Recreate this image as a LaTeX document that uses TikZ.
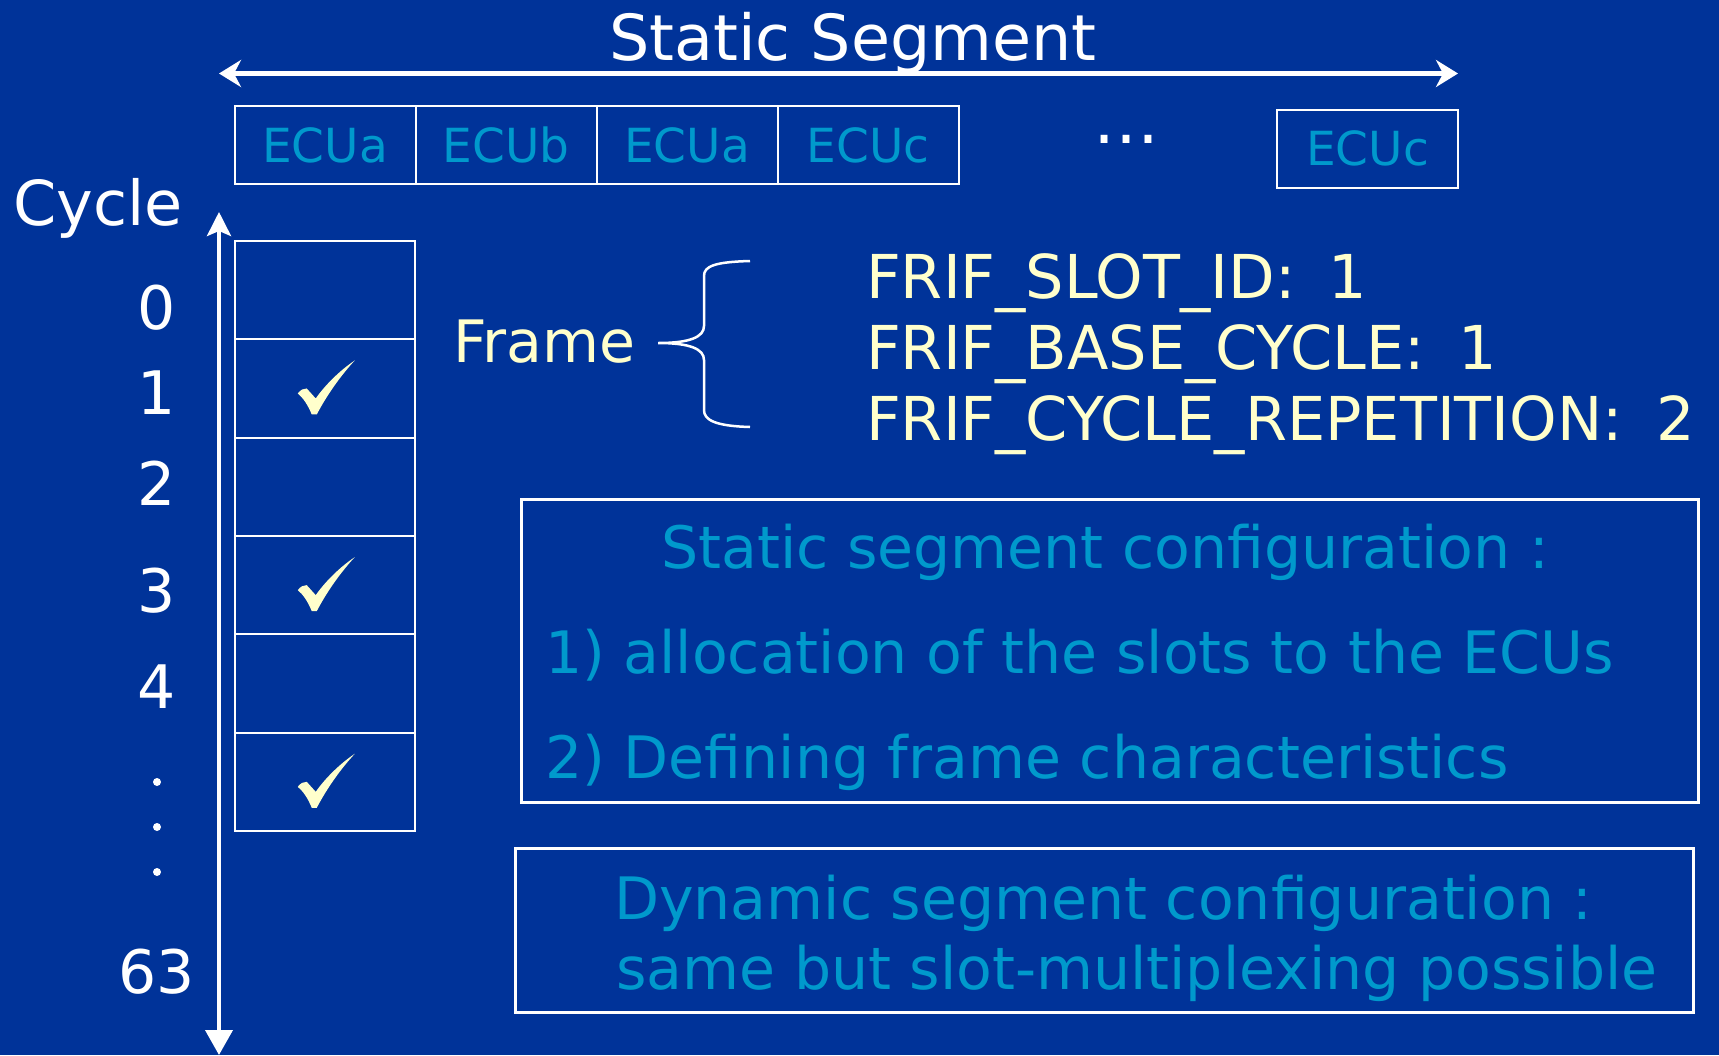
\documentclass[tikz,border=0pt]{standalone}
\usepackage{fontspec}
\setmainfont{DejaVu Sans}
\usetikzlibrary{arrows.meta}
\definecolor{bg}{RGB}{0,51,153}
\definecolor{cyanT}{RGB}{0,153,204}
\definecolor{cream}{RGB}{255,255,204}
\newcommand\fs[1]{\fontsize{#1}{#1}\selectfont}
\newcommand\checkmk[1]{\fill[cream,shift={#1}] (-27,5) .. controls (-24,1) and (-21,0) .. (-18,0) -- (-9,10) .. controls (0,-3) and (15,-18) .. (30,-28) .. controls (17,-14) and (3,5) .. (-8,26) -- (-13,26) .. controls (-17,16) and (-22,9) .. (-27,5) -- cycle;}
\tikzset{
  ecubox/.style={draw=white, line width=2pt, minimum width=181pt, minimum height=78pt, inner sep=0pt, text=cyanT, font=\fs{47}, anchor=north west},
  cellbox/.style={draw=white, line width=2pt, minimum width=180.5pt, minimum height=98.3pt, inner sep=0pt, anchor=north west},
  infobox/.style={draw=white, line width=2.5pt, inner sep=0pt, anchor=north west},
  num/.style={text=white, font=\fs{60}, anchor=base, inner sep=0pt},
  cream txt/.style={text=cream, font=\fs{58.5}, anchor=base west, inner sep=0pt},
  frif txt/.style={text=cream, font=\fs{60.5}, anchor=base west, inner sep=0pt},
  cyan txt/.style={text=cyanT, font=\fs{58.5}, anchor=base west, inner sep=0pt},
  bigarrow/.style={draw=white, line width=4.5pt},
}
\begin{document}
\begin{tikzpicture}[x=1pt,y=-1pt]
\fill[bg] (0,0) rectangle (1719,1055);
\useasboundingbox (0,0) rectangle (1719,1055);

% title and static segment arrow
\node[text=white, font=\fs{63.5}, anchor=base, inner sep=0pt] (title) at (853,60) {Static Segment};
\coordinate (ssL) at (219,73.5);
\coordinate (ssR) at (1458,73.5);
\draw[bigarrow, {Stealth[length=22pt,width=27pt,inset=7pt]}-{Stealth[length=22pt,width=27pt,inset=7pt]}] (ssL) -- (ssR);

% ECU boxes
\node[ecubox] (e1) at (233.5,105) {ECUa};
\node[ecubox] (e2) at (414.5,105) {ECUb};
\node[ecubox] (e3) at (595.5,105) {ECUa};
\node[ecubox] (e4) at (776.5,105) {ECUc};
\node[text=white, font=\fs{66}, anchor=base, inner sep=0pt] (dots) at (1126,143) {…};
\node[ecubox] (e5) at (1276,108.5) {ECUc};

% cycle axis
\node[text=white, font=\fs{62}, anchor=base west, inner sep=0pt] (cycle) at (13,225) {Cycle};
\coordinate (cyT) at (219,212);
\coordinate (cyB) at (219,1055);
\draw[bigarrow, line width=4pt, {Stealth[length=24pt,width=24pt,inset=5pt]}-{Triangle[length=25pt,width=27pt]}] (cyT) -- (cyB);

\node[num] (n0) at (157,329) {0};
\node[num] (n1) at (157,414) {1};
\node[num] (n2) at (157,505) {2};
\node[num] (n3) at (157,612) {3};
\node[num] (n4) at (157,708) {4};
\fill[white] (157,782) circle (4);
\fill[white] (157,827) circle (4);
\fill[white] (157,872) circle (4);
\node[num] (n63) at (157,993) {63};

% cells
\foreach \i in {0,...,5} {
  \node[cellbox] (c\i) at (233.5,{240+98.33*\i}) {};
}
\checkmk{(c1.center)}
\checkmk{(c3.center)}
\checkmk{(c5.center)}

% frame and brace
\node[cream txt] (frame) at (453,362) {Frame};
\draw[white, line width=2.5pt] (750,261) .. controls (715,262) and (704,266) .. (704,276) -- (704,326) .. controls (704,337) and (690,343) .. (658,343) .. controls (690,343) and (704,349) .. (704,360) -- (704,410) .. controls (704,420) and (715,426) .. (750,427);
\node[frif txt] (f1) at (866,298) {FRIF\_SLOT\_ID:\hspace{14pt} 1};
\node[frif txt] (f2) at (866,369) {FRIF\_BASE\_CYCLE:\hspace{14pt} 1};
\node[frif txt] (f3) at (866,440) {FRIF\_CYCLE\_REPETITION:\hspace{14pt} 2};

% static config box
\node[infobox, minimum width=1177pt, minimum height=303pt] (sbox) at (520,498) {};
\node[cyan txt, anchor=base] (s0) at (1105,568) {Static segment configuration :};
\node[cyan txt] (s1) at (545,673) {1) allocation of the slots to the ECUs};
\node[cyan txt] (s2) at (545,778) {2) Defining frame characteristics};

% dynamic config box
\node[infobox, minimum width=1178pt, minimum height=164pt] (dbox) at (514,847) {};
\node[cyan txt] (d0) at (614,919) {Dynamic segment configuration :};
\node[cyan txt] (d1) at (616,989) {same but slot-multiplexing possible};
\end{tikzpicture}
\end{document}
